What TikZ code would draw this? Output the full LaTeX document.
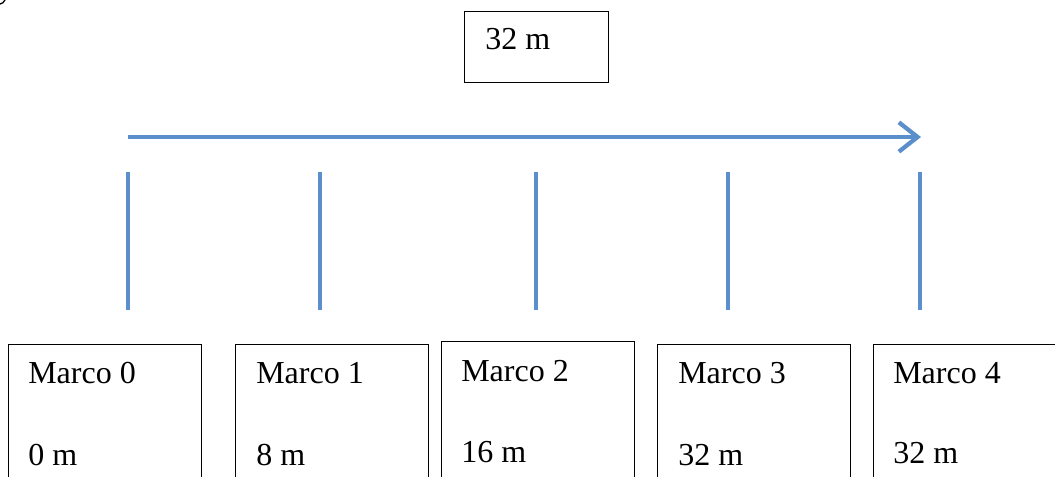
\documentclass[tikz,border=0pt]{standalone}
\usepackage{fontspec}
\setmainfont{Liberation Serif}
\usetikzlibrary{arrows.meta}
\definecolor{lineblue}{HTML}{5B8FCB}
\tikzset{
  frame/.style={draw=black, line width=1pt, minimum width=193*0.75pt, minimum height=170*0.75pt, anchor=north west, inner sep=0pt},
  lbl/.style={anchor=base west, inner sep=0pt, font=\fontsize{24}{28}\selectfont},
  tick/.style={draw=lineblue, line width=3.6pt},
  axis/.style={draw=lineblue, line width=3.2pt, -{Straight Barb[length=14pt, width=22pt, line width=3.2pt]}}
}
\begin{document}
\begin{tikzpicture}[x=0.75pt, y=-0.75pt]
\useasboundingbox (0,0) rectangle (1055,477);
\clip (0,0) rectangle (1055,477);
% small mark top-left
\draw[line width=1pt] (0,4) .. controls (2,4) and (4,2) .. (5,0);
% top box
\node[frame, minimum width=144*0.75pt, minimum height=71*0.75pt] (top) at (464,11) {};
\node[lbl] (toplbl) at (485,50) {32 m};
% axis arrow
\coordinate (a0) at (128,137);
\coordinate (a1) at (921,137);
\draw[axis] (a0) -- (a1);
% ticks
\foreach \i/\x in {0/128,1/320,2/536,3/728,4/920}{
  \coordinate (t\i a) at (\x,172);
  \coordinate (t\i b) at (\x,310);
  \draw[tick] (t\i a) -- (t\i b);
}
% boxes
\node[frame] (b0) at (8,344) {};
\node[frame] (b1) at (235,344) {};
\node[frame] (b2) at (441,341) {};
\node[frame] (b3) at (657,344) {};
\node[frame] (b4) at (873,344) {};
\node[lbl] (m0) at (28,383) {Marco 0};
\node[lbl] (v0) at (28,465) {0 m};
\node[lbl] (m1) at (256,383) {Marco 1};
\node[lbl] (v1) at (256,465) {8 m};
\node[lbl] (m2) at (461,381) {Marco 2};
\node[lbl] (v2) at (461,462) {16 m};
\node[lbl] (m3) at (678,383) {Marco 3};
\node[lbl] (v3) at (678,465) {32 m};
\node[lbl] (m4) at (893,383) {Marco 4};
\node[lbl] (v4) at (893,463) {32 m};
\end{tikzpicture}
\end{document}
